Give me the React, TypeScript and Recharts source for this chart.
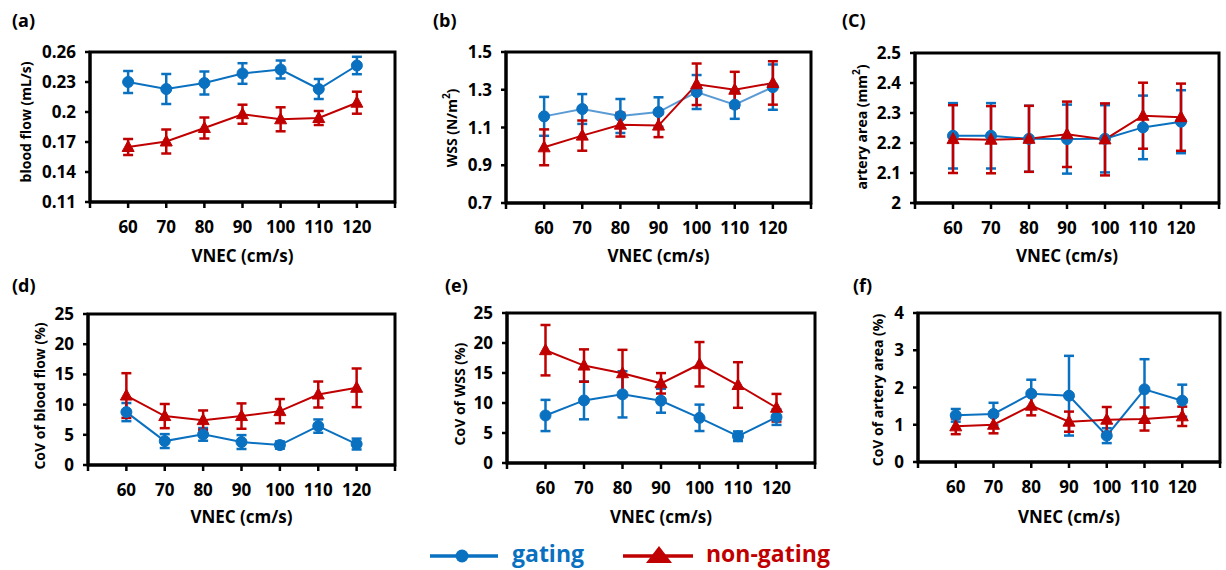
import React from 'react';
import { LineChart, Line, XAxis, YAxis, ErrorBar, ReferenceArea } from 'recharts';

const vnec = [60, 70, 80, 90, 100, 110, 120];
const xTicks = [50, 60, 70, 80, 90, 100, 110, 120, 130];

// (a) blood flow (mL/s)
const flowGating = [0.23, 0.223, 0.229, 0.2385, 0.2425, 0.223, 0.2465];
const flowGatingErr = [0.011, 0.015, 0.0115, 0.0103, 0.009, 0.01, 0.0087];
const flowNonGating = [0.165, 0.1705, 0.184, 0.1978, 0.1927, 0.194, 0.2093];
const flowNonGatingErr = [0.008, 0.012, 0.0105, 0.0095, 0.012, 0.007, 0.011];
const flowTicks = [0.11, 0.14, 0.17, 0.2, 0.23, 0.26];

// (b) WSS (N/m2)
const wssGating = [1.159, 1.198, 1.161, 1.182, 1.288, 1.221, 1.314];
const wssGatingErr = [0.103, 0.079, 0.09, 0.078, 0.09, 0.075, 0.12];
const wssNonGating = [0.995, 1.057, 1.115, 1.11, 1.329, 1.3, 1.336];
const wssNonGatingErr = [0.095, 0.08, 0.063, 0.061, 0.11, 0.095, 0.115];
const wssTicks = [0.7, 0.9, 1.1, 1.3, 1.5];

// (c) artery area (mm2)
const areaGating = [2.224, 2.224, 2.214, 2.213, 2.214, 2.252, 2.271];
const areaGatingErr = [0.109, 0.109, 0.11, 0.115, 0.112, 0.106, 0.105];
const areaNonGating = [2.213, 2.211, 2.214, 2.229, 2.212, 2.291, 2.286];
const areaNonGatingErr = [0.113, 0.112, 0.11, 0.109, 0.12, 0.11, 0.112];
const areaTicks = [2, 2.1, 2.2, 2.3, 2.4, 2.5];

// (d) CoV of blood flow (%)
const covFlowGating = [8.76, 3.96, 5.07, 3.8, 3.3, 6.44, 3.47];
const covFlowGatingErr = [1.5, 1.15, 1.05, 1.15, 0.6, 1.1, 0.9];
const covFlowNonGating = [11.5, 8.1, 7.43, 8.1, 8.92, 11.67, 12.78];
const covFlowNonGatingErr = [3.7, 2.0, 1.6, 2.1, 2.0, 2.15, 3.2];
const covTicks = [0, 5, 10, 15, 20, 25];

// (e) CoV of WSS (%)
const covWssGating = [7.92, 10.43, 11.44, 10.38, 7.53, 4.46, 7.65];
const covWssGatingErr = [2.6, 3.15, 3.85, 2.0, 2.2, 0.8, 1.3];
const covWssNonGating = [18.8, 16.24, 14.96, 13.28, 16.46, 13.0, 9.21];
const covWssNonGatingErr = [4.2, 2.7, 3.9, 1.7, 3.7, 3.8, 2.3];

// (f) CoV of artery area (%)
const covAreaGating = [1.253, 1.289, 1.834, 1.78, 0.707, 1.95, 1.646];
const covAreaGatingErr = [0.17, 0.3, 0.375, 1.07, 0.2, 0.81, 0.43];
const covAreaNonGating = [0.957, 1.0, 1.512, 1.083, 1.136, 1.154, 1.226];
const covAreaNonGatingErr = [0.21, 0.23, 0.26, 0.27, 0.34, 0.31, 0.26];
const covAreaTicks = [0, 1, 2, 3, 4];

const BLUE = '#0A70C0';
const LIGHT_BLUE = '#5B9BD5';
const RED = '#C00000';
const FONT = '"Open Sans", "DejaVu Sans", sans-serif';

type Box = { x0: number; y0: number; x1: number; y1: number };

const buildRows = (g: number[], ge: number[], n: number[], ne: number[]) =>
  vnec.map((x, i) => ({ x, g: g[i], gErr: ge[i], n: n[i], nErr: ne[i] }));

const Triangle = (props: any) => {
  const { cx, cy, index } = props;
  if (cx == null || cy == null) return <g key={index} />;
  return (
    <polygon
      key={`tri-${index}`}
      points={`${cx},${cy - 6.5} ${cx - 6},${cy + 4.5} ${cx + 6},${cy + 4.5}`}
      fill={RED}
      stroke={RED}
      strokeWidth={1}
    />
  );
};

const Circle = (props: any) => {
  const { cx, cy, index } = props;
  if (cx == null || cy == null) return <g key={index} />;
  return <circle key={`c-${index}`} cx={cx} cy={cy} r={5.5} fill={BLUE} stroke={BLUE} />;
};

type PanelProps = {
  box: Box;
  rows: any[];
  ticks: number[];
  gLine?: string;
};

const Panel = ({ box, rows, ticks, gLine = BLUE }: PanelProps) => {
  const yW = 60;
  const xH = 30;
  const m = { left: 10, top: 20, right: 6, bottom: 10 };
  const W = box.x1 - box.x0 + m.left + m.right + yW;
  const H = box.y1 - box.y0 + m.top + m.bottom + xH;
  const left = box.x0 - m.left - yW;
  const top = box.y0 - m.top;
  const yMin = ticks[0];
  const yMax = ticks[ticks.length - 1];
  const tickStyle = { fontSize: 17, fontWeight: 700, fill: '#000', fontFamily: FONT };
  return (
    <div style={{ position: 'absolute', left, top, width: W, height: H }}>
      <LineChart width={W} height={H} data={rows} margin={m}>
        <XAxis
          dataKey="x"
          type="number"
          domain={[50, 130]}
          ticks={xTicks}
          interval={0}
          tickFormatter={(v: number) => (v === 50 || v === 130 ? '' : String(v))}
          tickSize={6}
          tickMargin={13}
          height={xH}
          axisLine={{ stroke: '#000', strokeWidth: 3 }}
          tickLine={{ stroke: '#000', strokeWidth: 2.5 }}
          tick={tickStyle}
          allowDataOverflow
        />
        <YAxis
          type="number"
          domain={[yMin, yMax]}
          ticks={ticks}
          interval={0}
          width={yW}
          tickSize={5}
          tickMargin={9}
          axisLine={{ stroke: '#000', strokeWidth: 3 }}
          tickLine={{ stroke: '#000', strokeWidth: 2.5 }}
          tick={tickStyle}
          allowDataOverflow
        />
        <ReferenceArea
          x1={50}
          x2={130}
          y1={yMin}
          y2={yMax}
          stroke="#000"
          strokeWidth={3}
          fill="none"
          fillOpacity={0}
          ifOverflow="visible"
        />
        <Line
          dataKey="g"
          type="linear"
          stroke={gLine}
          strokeWidth={2}
          dot={Circle}
          activeDot={false}
          isAnimationActive={false}
        >
          <ErrorBar dataKey="gErr" direction="y" width={5} stroke={BLUE} strokeWidth={2.5} />
        </Line>
        <Line
          dataKey="n"
          type="linear"
          stroke={RED}
          strokeWidth={2}
          dot={Triangle}
          activeDot={false}
          isAnimationActive={false}
        >
          <ErrorBar dataKey="nErr" direction="y" width={5} stroke={RED} strokeWidth={2.5} />
        </Line>
      </LineChart>
    </div>
  );
};

const boxes: Record<string, Box> = {
  a: { x0: 90, y0: 52, x1: 395, y1: 202 },
  b: { x0: 506, y0: 52, x1: 811, y1: 203 },
  c: { x0: 915, y0: 53, x1: 1219, y1: 203 },
  d: { x0: 88, y0: 314, x1: 395, y1: 465 },
  e: { x0: 507, y0: 313, x1: 815, y1: 463 },
  f: { x0: 918, y0: 313, x1: 1220, y1: 462 },
};

const YTitle = ({ x, y, children }: { x: number; y: number; children: any }) => (
  <text
    x={x}
    y={y}
    transform={`rotate(-90, ${x}, ${y})`}
    textAnchor="middle"
    dominantBaseline="central"
    fontSize={14}
    fontWeight={700}
    fill="#000"
  >
    {children}
  </text>
);

const XTitle = ({ box, y }: { box: Box; y: number }) => (
  <text
    x={(box.x0 + box.x1) / 2}
    y={y}
    textAnchor="middle"
    dominantBaseline="central"
    fontSize={17}
    fontWeight={700}
    fill="#000"
  >
    VNEC (cm/s)
  </text>
);

const PanelLabel = ({ x, y, t }: { x: number; y: number; t: string }) => (
  <text x={x} y={y} dominantBaseline="central" fontSize={18} fontWeight={700} fill="#000">
    {t}
  </text>
);

export default function App() {
  return (
    <div
      style={{
        position: 'absolute',
        left: 0,
        top: 0,
        width: 1226,
        height: 570,
        background: '#fff',
        fontFamily: FONT,
        overflow: 'hidden',
      }}
    >
      <Panel box={boxes.a} rows={buildRows(flowGating, flowGatingErr, flowNonGating, flowNonGatingErr)} ticks={flowTicks} />
      <Panel box={boxes.b} rows={buildRows(wssGating, wssGatingErr, wssNonGating, wssNonGatingErr)} ticks={wssTicks} gLine={LIGHT_BLUE} />
      <Panel box={boxes.c} rows={buildRows(areaGating, areaGatingErr, areaNonGating, areaNonGatingErr)} ticks={areaTicks} />
      <Panel box={boxes.d} rows={buildRows(covFlowGating, covFlowGatingErr, covFlowNonGating, covFlowNonGatingErr)} ticks={covTicks} />
      <Panel box={boxes.e} rows={buildRows(covWssGating, covWssGatingErr, covWssNonGating, covWssNonGatingErr)} ticks={covTicks} />
      <Panel box={boxes.f} rows={buildRows(covAreaGating, covAreaGatingErr, covAreaNonGating, covAreaNonGatingErr)} ticks={covAreaTicks} />
      <svg
        width={1226}
        height={570}
        style={{ position: 'absolute', left: 0, top: 0, pointerEvents: 'none', fontFamily: FONT }}
      >
        <PanelLabel x={12} y={20} t="(a)" />
        <PanelLabel x={433} y={20} t="(b)" />
        <PanelLabel x={842} y={20} t="(C)" />
        <PanelLabel x={12} y={285} t="(d)" />
        <PanelLabel x={445} y={285} t="(e)" />
        <PanelLabel x={853} y={285} t="(f)" />

        <YTitle x={25} y={122}>blood flow (mL/s)</YTitle>
        <YTitle x={451} y={128}>
          WSS (N/m<tspan dy={-5} fontSize={10}>2</tspan>
          <tspan dy={5}>)</tspan>
        </YTitle>
        <YTitle x={861} y={127}>
          artery area (mm<tspan dy={-5} fontSize={10}>2</tspan>
          <tspan dy={5}>)</tspan>
        </YTitle>
        <YTitle x={39} y={396}>CoV of blood flow (%)</YTitle>
        <YTitle x={459} y={394}>CoV of WSS (%)</YTitle>
        <YTitle x={877} y={390}>CoV of artery area (%)</YTitle>

        <XTitle box={boxes.a} y={255} />
        <XTitle box={boxes.b} y={255} />
        <XTitle box={boxes.c} y={255} />
        <XTitle box={boxes.d} y={516} />
        <XTitle box={boxes.e} y={516} />
        <XTitle box={boxes.f} y={516} />

        <line x1={430} y1={556} x2={498} y2={556} stroke={BLUE} strokeWidth={3.5} />
        <circle cx={462} cy={556} r={6.5} fill={BLUE} />
        <text x={512} y={562} fontSize={23} fontWeight={700} fill={BLUE}>gating</text>

        <line x1={623} y1={556} x2={693} y2={556} stroke={RED} strokeWidth={3.5} />
        <polygon points="659,546 646,563 672,563" fill={RED} />
        <text x={706} y={562} fontSize={23} fontWeight={700} fill={RED}>non-gating</text>
      </svg>
    </div>
  );
}
